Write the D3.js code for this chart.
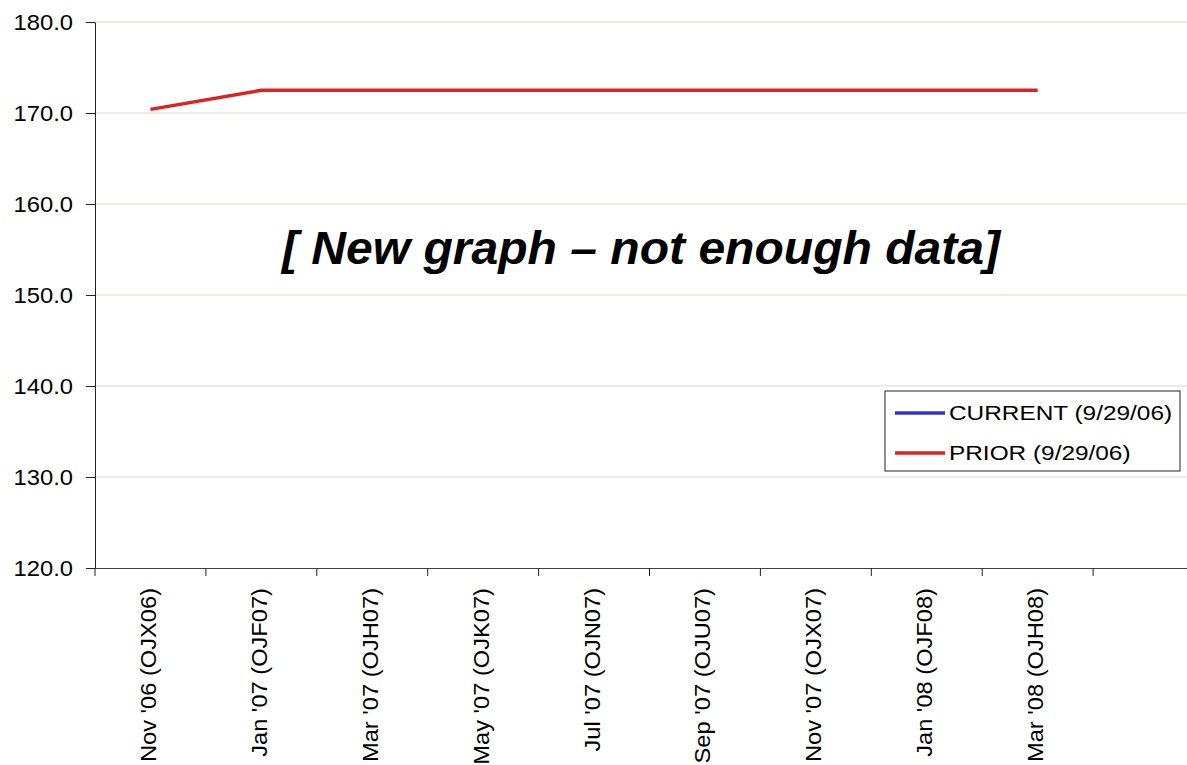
<!DOCTYPE html>
<html>
<head>
<meta charset="utf-8">
<script src="https://cdn.jsdelivr.net/npm/d3@7"></script>
<style>
  body { margin: 0; background: #fff; }
  svg { display: block; font-family: "Liberation Sans", Arial, sans-serif; }
</style>
</head>
<body>
<div id="chart"></div>
<script>
// chart data
var months = ["Nov '06 (OJX06)", "Jan '07 (OJF07)", "Mar '07 (OJH07)", "May '07 (OJK07)",
  "Jul '07 (OJN07)", "Sep '07 (OJU07)", "Nov '07 (OJX07)", "Jan '08 (OJF08)", "Mar '08 (OJH08)", ""];
var priorValues = [170.4, 172.5, 172.5, 172.5, 172.5, 172.5, 172.5, 172.5, 172.5];
var currentValues = [];
var yTicks = [120, 130, 140, 150, 160, 170, 180];
var seriesNames = ["CURRENT (9/29/06)", "PRIOR (9/29/06)"];
var seriesColors = ["#3333cc", "#dd2222"];

var svgWidth = 1187;
var svgHeight = 765;
var margin = { top: 22, left: 95, bottom: 197 };
var plotRight = 1204;   // the plot runs past the right edge of the picture

var svg = d3.select("#chart")
  .append("svg")
  .attr("width", svgWidth)
  .attr("height", svgHeight);

// the reference text is drawn a bit wide, stretch it
function stretch(sel, f) {
  sel.each(function() {
    var w = this.getComputedTextLength();
    if (w > 0) d3.select(this).attr("textLength", w * f).attr("lengthAdjust", "spacingAndGlyphs");
  });
}

var xScale = d3.scaleBand()
  .domain(d3.range(months.length))
  .range([margin.left, plotRight]);

var yScale = d3.scaleLinear()
  .domain([120, 180])
  .range([svgHeight - margin.bottom, margin.top]);

// gridlines
svg.append("g")
  .selectAll("line")
  .data(yTicks.slice(1))
  .enter()
  .append("line")
  .attr("x1", margin.left)
  .attr("x2", plotRight)
  .attr("y1", d => yScale(d))
  .attr("y2", d => yScale(d))
  .attr("stroke", "#ddd5cc")
  .attr("stroke-width", 1);

// y axis
var leftAxis = d3.axisLeft(yScale)
  .tickValues(yTicks)
  .tickFormat(d3.format(".1f"))
  .tickSize(9)
  .tickSizeOuter(0)
  .tickPadding(13);

var yAxis = svg.append("g")
  .attr("transform", `translate(${margin.left},0)`)
  .call(leftAxis);
yAxis.selectAll("text").attr("font-size", 22).attr("fill", "#000").attr("font-family", "Liberation Sans, Arial, sans-serif");
yAxis.selectAll("line, path").attr("stroke", "#222");
stretch(yAxis.selectAll("text"), 1.08);

// x axis
var bottomAxis = d3.axisBottom(xScale)
  .tickFormat(i => months[i])
  .tickSize(0);

var xAxis = svg.append("g")
  .attr("transform", `translate(0,${yScale(120)})`)
  .call(bottomAxis);
xAxis.select("path").attr("stroke", "#444").attr("d", `M${margin.left},0.5H${plotRight}`);
xAxis.selectAll("text")
  .attr("font-size", 21.5)
  .attr("fill", "#000")
  .attr("font-family", "Liberation Sans, Arial, sans-serif")
  .attr("transform", "rotate(-90)")
  .attr("text-anchor", "end")
  .attr("x", -20)
  .attr("y", -2)
  .attr("dy", "0.35em");
stretch(xAxis.selectAll("text"), 1.1);

// tick marks between categories
svg.append("g")
  .selectAll("line")
  .data(d3.range(months.length + 1))
  .enter()
  .append("line")
  .attr("x1", i => margin.left + i * xScale.step())
  .attr("x2", i => margin.left + i * xScale.step())
  .attr("y1", yScale(120))
  .attr("y2", yScale(120) + 8)
  .attr("stroke", "#222");

// series lines
var line = d3.line()
  .x((d, i) => xScale(i) + xScale.bandwidth() / 2)
  .y(d => yScale(d));

svg.append("path")
  .datum(currentValues)
  .attr("fill", "none")
  .attr("stroke", seriesColors[0])
  .attr("stroke-width", 3.5)
  .attr("d", line);

svg.append("path")
  .datum(priorValues)
  .attr("fill", "none")
  .attr("stroke", seriesColors[1])
  .attr("stroke-width", 3.5)
  .attr("d", line);

// message
svg.append("text")
  .attr("x", 641)
  .attr("y", 264)
  .attr("text-anchor", "middle")
  .attr("font-size", 46)
  .attr("font-weight", "bold")
  .attr("font-style", "italic")
  .attr("textLength", 718)
  .attr("lengthAdjust", "spacingAndGlyphs")
  .text("[ New graph \u2013 not enough data]");

// legend
var legend = svg.append("g").attr("transform", "translate(885,391)");
legend.append("rect")
  .attr("width", 295)
  .attr("height", 80)
  .attr("fill", "#fff")
  .attr("stroke", "#222")
  .attr("stroke-width", 1);

var item = legend.selectAll("g.item")
  .data(seriesNames)
  .enter()
  .append("g")
  .attr("class", "item")
  .attr("transform", (d, i) => `translate(0,${22 + i * 40})`);
item.append("line")
  .attr("x1", 10).attr("x2", 60)
  .attr("stroke", (d, i) => seriesColors[i])
  .attr("stroke-width", 3.5);
item.append("text")
  .attr("x", 64)
  .attr("dy", "0.35em")
  .attr("font-size", 19.5)
  .text(d => d);
stretch(item.selectAll("text"), 1.25);
</script>
</body>
</html>
